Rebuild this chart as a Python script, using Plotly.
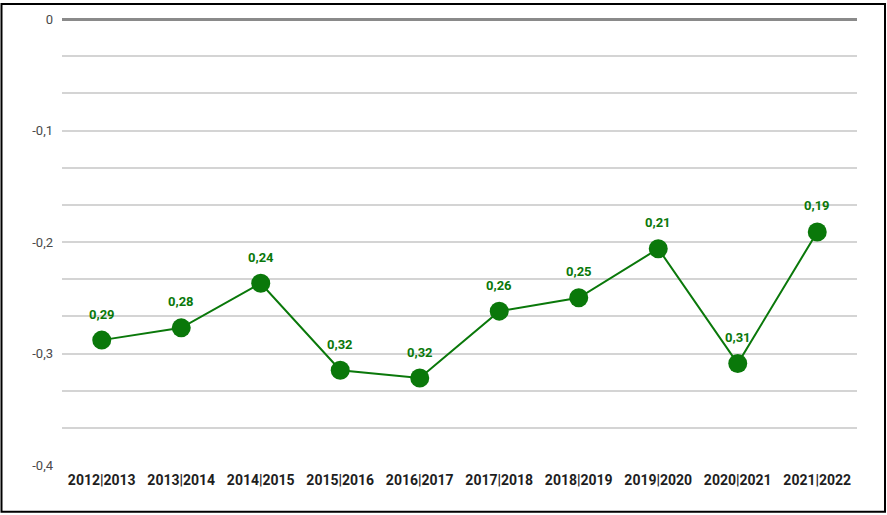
import plotly.graph_objects as go

categories = ["2012|2013", "2013|2014", "2014|2015", "2015|2016", "2016|2017",
              "2017|2018", "2018|2019", "2019|2020", "2020|2021", "2021|2022"]
values = [-0.288, -0.277, -0.237, -0.315, -0.322, -0.262, -0.250, -0.206, -0.309, -0.191]
labels = ["0,29", "0,28", "0,24", "0,32", "0,32", "0,26", "0,25", "0,21", "0,31", "0,19"]
y_ticks = [0, -0.1, -0.2, -0.3, -0.4]
y_tick_text = ["0", "-0,1", "-0,2", "-0,3", "-0,4"]

GREEN = "#0a780a"
W, H = 887, 515
L, R, T, B = 62, 30, 16, 50

fig = go.Figure()
fig.add_trace(go.Scatter(
    x=categories, y=values, mode="lines+markers",
    line=dict(color=GREEN, width=2),
    marker=dict(color=GREEN, size=19),
    cliponaxis=False,
))

for c, v, t in zip(categories, values, labels):
    fig.add_annotation(
        x=c, y=v, text=t, showarrow=False, yshift=26,
        font=dict(family="Roboto", size=13, color=GREEN, weight="bold"),
    )

# gridlines every 1/3 of 0.1
grid_vals = [-i * 0.1 / 3 for i in range(13)]
grid_text = []
for i, v in enumerate(grid_vals):
    grid_text.append(y_tick_text[i // 3] if i % 3 == 0 else "")

fig.update_layout(
    width=W, height=H,
    margin=dict(l=L, r=R, t=T, b=B),
    paper_bgcolor="white", plot_bgcolor="white",
    showlegend=False,
    font=dict(family="Roboto"),
    xaxis=dict(
        type="category", range=[-0.5, 9.5], showgrid=False, zeroline=False,
        showline=False, ticks="", ticklabelstandoff=5,
        tickfont=dict(family="Roboto", size=14, color="#1e1e1e", weight="bold"),
    ),
    yaxis=dict(
        range=[-0.4, 0], tickvals=grid_vals, ticktext=grid_text,
        showgrid=True, gridcolor="#d4d4d4", gridwidth=2,
        zeroline=True, zerolinecolor="#8a8a8a", zerolinewidth=3,
        showline=False, ticks="", ticklabelstandoff=8,
        tickfont=dict(family="Roboto", size=13, color="#4a4a4a"),
    ),
)

# outer black frame around the whole image
pw, ph = W - L - R, H - T - B
bottom_px = H - B
fig.add_shape(
    type="rect", xref="paper", yref="paper",
    x0=(1.5 - L) / pw, x1=(885 - L) / pw,
    y0=(bottom_px - 512) / ph, y1=(bottom_px - 1) / ph,
    line=dict(color="black", width=2), fillcolor="rgba(0,0,0,0)", layer="above",
)

fig.write_html("out.html", config={"displayModeBar": False},
               post_script="document.body.style.margin='0';")
